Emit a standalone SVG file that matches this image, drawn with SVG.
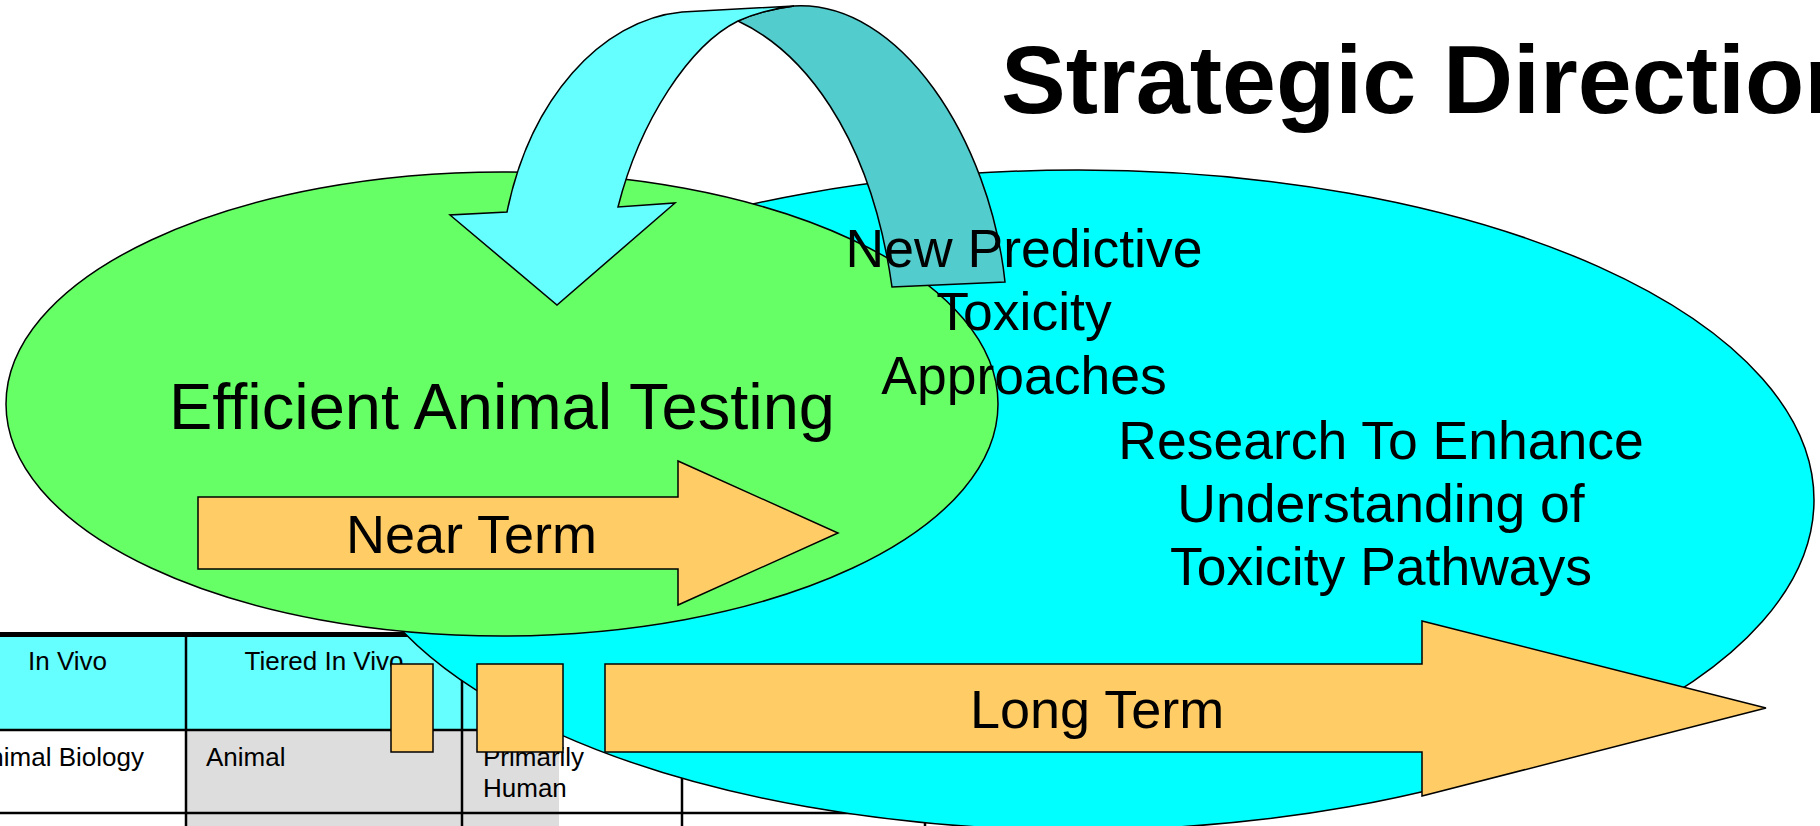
<svg xmlns="http://www.w3.org/2000/svg" width="1820" height="826" viewBox="0 0 1820 826">
<style>
.shape{stroke:#000;stroke-width:1.5;stroke-linejoin:miter}
.orange{fill:#FFCC66}
.t{font-family:"Liberation Sans",Arial,sans-serif;fill:#000}
.big{font-size:53.5px}
.arrowtext{font-size:54px}
.small{font-size:26px}
.tl{stroke:#000;stroke-width:2.5;fill:none}
</style>
<rect width="1820" height="826" fill="#FFFFFF"/>
<g id="table">
  <rect x="-60" y="637" width="1160" height="93" fill="#66FFFF"/>
  <rect x="187" y="731" width="275" height="100" fill="#DDDDDD"/>
  <rect x="462" y="731" width="97" height="100" fill="#DDDDDD"/>
  <rect x="-60" y="632" width="1160" height="5" fill="#000"/>
  <line class="tl" x1="-60" y1="730" x2="1100" y2="730"/>
  <line class="tl" x1="-60" y1="813" x2="1100" y2="813"/>
  <line class="tl" x1="186" y1="637" x2="186" y2="830"/>
  <line class="tl" x1="462" y1="637" x2="462" y2="830"/>
  <line class="tl" x1="682" y1="637" x2="682" y2="830"/>
  <line class="tl" x1="925" y1="637" x2="925" y2="830"/>
  <text class="t small" x="28" y="670">In Vivo</text>
  <text class="t small" x="324" y="670" text-anchor="middle">Tiered In Vivo</text>
  <text class="t small" x="-28" y="766">Animal Biology</text>
  <text class="t small" x="206" y="766">Animal</text>
  <text class="t small" x="483" y="766">Primarily</text>
  <text class="t small" x="483" y="797">Human</text>
</g>
<g id="research">
  <ellipse class="shape" cx="1078" cy="500" rx="736" ry="330" fill="#00FFFF"/>
  <text class="t big" text-anchor="middle"><tspan x="1381" y="459">Research To Enhance</tspan><tspan x="1381" y="522">Understanding of</tspan><tspan x="1381" y="585">Toxicity Pathways</tspan></text>
</g>
<g id="efficient">
  <ellipse class="shape" cx="502" cy="404" rx="496" ry="232" fill="#66FF66"/>
  <text class="t" x="502" y="429" font-size="65" text-anchor="middle">Efficient Animal Testing</text>
</g>
<g id="marker1">
  <rect class="shape orange" x="391" y="664" width="42" height="88"/>
</g>
<g id="marker2">
  <rect class="shape orange" x="477" y="664" width="86" height="88"/>
</g>
<g id="long-term">
  <path class="shape orange" d="M605,664 L1422,664 L1422,621 L1766,708 L1422,796 L1422,752 L605,752 Z"/>
  <text class="t arrowtext" x="970" y="728">Long Term</text>
</g>
<g id="near-term">
  <path class="shape orange" d="M198,497 L678,497 L678,461 L838,533 L678,605 L678,569 L198,569 Z"/>
  <text class="t arrowtext" x="346" y="553">Near Term</text>
</g>
<g id="connectors">
  <path class="shape" fill="#52CCCC" d="M794,6 C900,0 990,140 1005,282 L892,287 C870,130 800,50 738,21 Q762,10 794,6 Z"/>
  <path class="shape" fill="#66FFFF" d="M682,12 L794,6 Q762,10 738,21 C690,45 640,120 618,207 L675,203 L557,305 L450,215 L507,212 C530,100 600,20 682,12 Z"/>
</g>
<g id="new-predictive">
  <text class="t big" text-anchor="middle"><tspan x="1024" y="267">New Predictive</tspan><tspan x="1024" y="330">Toxicity</tspan><tspan x="1024" y="394">Approaches</tspan></text>
</g>
<g id="title">
  <text class="t" x="1001" y="113" font-size="97" font-weight="bold">Strategic Direction</text>
</g>
</svg>
